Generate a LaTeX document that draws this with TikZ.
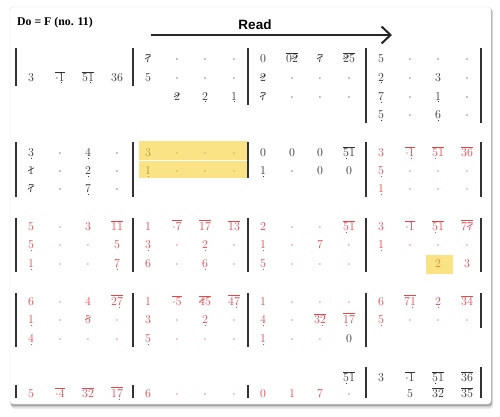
\documentclass[tikz,border=0pt]{standalone}
\usepackage{fontspec}
\newfontfamily\sansb{Liberation Sans}
\newfontfamily\serifb{Liberation Serif}
\usetikzlibrary{arrows.meta}
\definecolor{ink}{HTML}{333333}
\definecolor{redn}{HTML}{E5464D}
\definecolor{goldn}{HTML}{B89A30}
\definecolor{orangen}{HTML}{E8862B}
\definecolor{hilite}{HTML}{FAE384}
\newcommand\ud[1]{\leavevmode\vtop{\baselineskip0pt\lineskip1.3pt\lineskiplimit0pt\halign{\hfil##\hfil\cr#1\cr\rule{1pt}{1pt}\cr}}}
\newcommand\sd[1]{\ooalign{#1\cr\hidewidth\raisebox{3.2pt}{\rotatebox{28}{\rule[-0.3pt]{7pt}{0.6pt}}}\hidewidth\cr}}
\newcommand\ol[1]{$\overline{\mbox{#1}}$}
\newcommand\dt{$\cdot$}
\newcount\cellno
\newcommand\Cell[4]{\def\tmpa{#4}\ifx\tmpa\empty\else\global\advance\cellno by 1\relax\node[#1] (c\the\cellno) at (#2,#3+4.2) {#4};\fi}
\newcommand\R[7]{\Cell{#3}{#1+15}{#2}{#4}\Cell{#3}{#1+44}{#2}{#5}\Cell{#3}{#1+72}{#2}{#6}\Cell{#3}{#1+101}{#2}{#7}}
\newcommand\Bar[3]{\draw[barl] (#1,#2) -- (#1,#3);}
\tikzset{
  nt/.style={inner sep=0pt, anchor=base, font=\fontsize{12}{12}\selectfont, text=ink},
  rt/.style={nt, text=redn},
  gt/.style={nt, text=goldn},
  ot/.style={nt, text=orangen},
  barl/.style={line width=1.4pt, draw=ink},
  hl/.style={fill=hilite, draw=none},
}
\begin{document}
\begin{tikzpicture}[x=1pt,y=-1pt]
\useasboundingbox (0,0) rectangle (500,417);
% card with shadow
\fill[black!12, rounded corners=3] (11,9) rectangle (493,408.5);
\fill[black!35, rounded corners=3] (10.5,8) rectangle (492,406.3);
\draw[fill=white, draw=black!12, rounded corners=3] (10,7) rectangle (491,404);
% titles
\node[anchor=base west, inner sep=0pt, font=\serifb\bfseries\fontsize{11.8}{11.8}\selectfont, text=black] (title) at (17,26) {Do = F (no. 11)};
\node[anchor=base, inner sep=0pt, font=\sansb\bfseries\fontsize{13.5}{13.5}\selectfont, text=black] (read) at (255,30) {Read};
\coordinate (arrS) at (151,35);
\coordinate (arrE) at (392,35);
\draw[line width=2.2pt, black!85, -{Straight Barb[length=9pt,width=17pt,line width=2pt]}] (arrS) -- (arrE);
% highlights
\fill[hl] (139,141) rectangle (248,159.5);
\fill[hl] (139,160.5) rectangle (248,178);
\fill[hl] (426,255) rectangle (453,274);
% ---------- system 1 ----------
\Bar{16}{48}{86}\Bar{133}{48}{86}\Bar{248}{48}{105}\Bar{366}{48}{123}\Bar{481}{48}{123}
\R{16}{77}{nt}{3}{\ol{$\cdot$\ud{1}}}{\ol{5\ud{1}}}{36}
\R{133}{58}{nt}{\sd{7}}{\dt}{\dt}{\dt}
\R{133}{77}{nt}{5}{\dt}{\dt}{\dt}
\R{133}{96}{nt}{}{\sd{2}}{\ud{2}}{\ud{1}}
\R{248}{58}{nt}{0}{\ol{0\sd{2}}}{\sd{7}}{\ol{\sd{2}5}}
\R{248}{77}{nt}{\sd{2}}{\dt}{\dt}{\dt}
\R{248}{96}{nt}{\sd{7}}{\dt}{\dt}{\dt}
\R{366}{58}{nt}{5}{\dt}{\dt}{\dt}
\R{366}{77}{nt}{\ud{2}}{\dt}{3}{\dt}
\R{366}{96}{nt}{\ud{7}}{\dt}{\ud{1}}{\dt}
\R{366}{114}{nt}{\ud{5}}{\dt}{\ud{6}}{\dt}
% ---------- system 2 ----------
\Bar{16}{142}{197}\Bar{133}{142}{197}\Bar{248}{142}{178}\Bar{366}{142}{197}\Bar{481}{142}{197}
\R{16}{152}{nt}{\ud{3}}{\dt}{\ud{4}}{\dt}
\R{16}{170}{nt}{\sd{1}}{\dt}{\ud{2}}{\dt}
\R{16}{188}{nt}{\sd{7}}{\dt}{\ud{7}}{\dt}
\R{133}{152}{gt}{3}{\dt}{\dt}{\dt}
\R{133}{170}{gt}{\ud{1}}{\dt}{\dt}{\dt}
\R{248}{152}{nt}{0}{0}{0}{\ol{\ud{5}1}}
\R{248}{170}{nt}{\ud{1}}{\dt}{0}{0}
\R{366}{152}{rt}{3}{\ol{$\cdot$\ud{1}}}{\ol{\ud{5}1}}{\ol{36}}
\R{366}{170}{rt}{\ud{5}}{\dt}{\dt}{\dt}
\R{366}{188}{rt}{\ud{1}}{\dt}{\dt}{\dt}
% ---------- system 3 ----------
\Bar{16}{218}{272}\Bar{133}{218}{272}\Bar{248}{218}{272}\Bar{366}{218}{272}\Bar{481}{218}{272}
\R{16}{226}{rt}{5}{\dt}{3}{\ol{11}}
\R{16}{244}{rt}{\ud{5}}{\dt}{\dt}{5}
\R{16}{263}{rt}{\ud{1}}{\dt}{\dt}{\ud{7}}
\R{133}{226}{rt}{1}{\ol{$\cdot$7}}{\ol{17}}{\ol{13}}
\R{133}{244}{rt}{\ud{3}}{\dt}{\ud{2}}{\dt}
\R{133}{263}{rt}{6}{\dt}{\ud{6}}{\dt}
\R{248}{226}{rt}{2}{\dt}{\dt}{\ol{\ud{5}1}}
\R{248}{244}{rt}{\ud{1}}{\dt}{7}{\dt}
\R{248}{263}{rt}{\ud{5}}{\dt}{\dt}{\dt}
\R{366}{226}{rt}{3}{\ol{$\cdot$1}}{\ol{\ud{5}1}}{\ol{7\sd{7}}}
\R{366}{244}{rt}{\ud{1}}{\dt}{\dt}{\dt}
\R{366}{263}{ot}{}{}{2}{}
\R{366}{263}{rt}{}{}{}{3}
% ---------- system 4 ----------
\Bar{16}{293}{347}\Bar{133}{293}{347}\Bar{248}{293}{347}\Bar{366}{293}{347}\Bar{481}{293}{328}
\R{16}{301}{rt}{6}{\dt}{4}{\ol{2\ud{7}}}
\R{16}{319}{rt}{\ud{1}}{\dt}{\sd{5}}{\dt}
\R{16}{338}{rt}{\ud{4}}{\dt}{\dt}{\dt}
\R{133}{301}{rt}{1}{\ol{$\cdot$5}}{\ol{\sd{4}5}}{\ol{4\ud{7}}}
\R{133}{319}{rt}{3}{\dt}{\ud{2}}{\dt}
\R{133}{338}{rt}{\ud{5}}{\dt}{\dt}{\dt}
\R{248}{301}{rt}{1}{\dt}{\dt}{\dt}
\R{248}{319}{rt}{\ud{4}}{\dt}{\ol{3\ud{2}}}{\ol{\ud{1}7}}
\R{248}{338}{rt}{\ud{1}}{\dt}{\dt}{}
\R{248}{338}{nt}{}{}{}{0}
\R{366}{301}{rt}{6}{\ol{7\ud{1}}}{\ud{2}}{\ol{34}}
\R{366}{319}{rt}{\ud{5}}{\dt}{\dt}{\dt}
% ---------- system 5 ----------
\Bar{16}{385}{398}\Bar{133}{385}{398}\Bar{248}{385}{398}\Bar{366}{367}{398}\Bar{481}{367}{398}
\R{16}{393}{rt}{5}{\ol{$\cdot$4}}{\ol{32}}{\ol{1\ud{7}}}
\R{133}{393}{rt}{6}{\dt}{\dt}{\dt}
\R{248}{393}{rt}{0}{1}{7}{\dt}
\R{248}{377}{nt}{}{}{}{\ol{\ud{5}1}}
\R{366}{377}{nt}{3}{\ol{$\cdot$1}}{\ol{\ud{5}1}}{\ol{36}}
\R{366}{393}{nt}{}{5}{\ol{32}}{\ol{35}}
\end{tikzpicture}
\end{document}
